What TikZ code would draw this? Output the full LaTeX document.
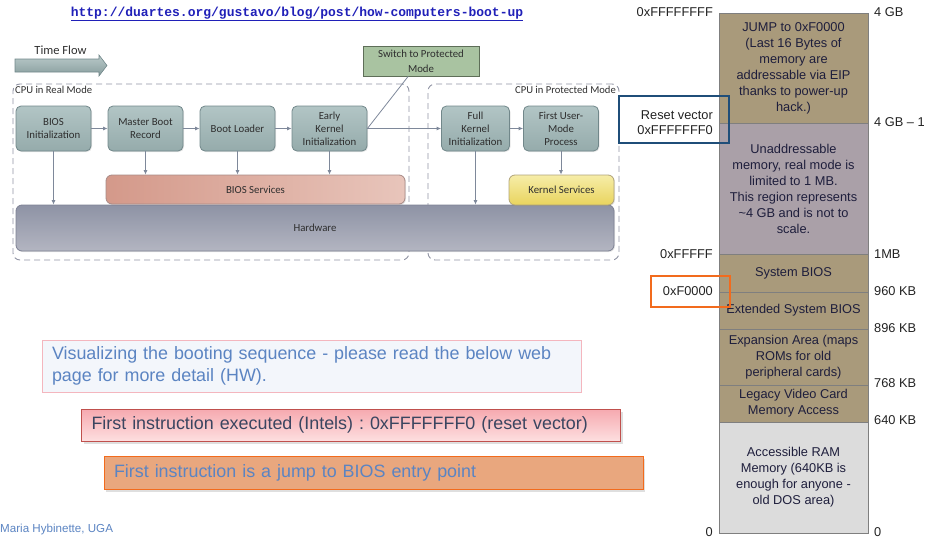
\documentclass[tikz,border=0pt]{standalone}
\usepackage{fontspec}
\setmainfont{Liberation Sans}
\newfontfamily\diagfont{Carlito}
\newfontfamily\linkfont{Liberation Mono}
\usetikzlibrary{arrows.meta,shadows,calc}
\frenchspacing

% palette
\definecolor{stagetop}{HTML}{B2C5C5}
\definecolor{stagebot}{HTML}{95ABAB}
\definecolor{stageline}{HTML}{71878A}
\definecolor{switchfill}{HTML}{A9C3A1}
\definecolor{switchline}{HTML}{5E6E58}
\definecolor{hwtop}{HTML}{8E93A5}
\definecolor{hwbot}{HTML}{B3B5C1}
\definecolor{hwline}{HTML}{7D8194}
\definecolor{bsvcleft}{HTML}{D4998A}
\definecolor{bsvcright}{HTML}{E8C5BB}
\definecolor{bsvcline}{HTML}{A88A86}
\definecolor{kstop}{HTML}{F6EDA8}
\definecolor{ksbot}{HTML}{E9D45E}
\definecolor{ksline}{HTML}{B0A37A}
\definecolor{regionline}{HTML}{9194A4}
\definecolor{flowline}{HTML}{7E889A}
\definecolor{diagtext}{HTML}{2E2E2E}
\definecolor{memtan}{HTML}{A99A7B}
\definecolor{memgray}{HTML}{AAA0A8}
\definecolor{memram}{HTML}{DCDCDC}
\definecolor{memline}{HTML}{7F7F7F}
\definecolor{memtext}{HTML}{1E1E3C}
\definecolor{addrtext}{HTML}{222222}
\definecolor{resetline}{HTML}{1F4E79}
\definecolor{offsetline}{HTML}{F26B1D}
\definecolor{linkblue}{HTML}{2020B8}
\definecolor{noteblue}{HTML}{5B84C2}
\definecolor{onefill}{HTML}{F3F6FB}
\definecolor{oneline}{HTML}{F4B6BE}
\definecolor{twotop}{HTML}{F6A9AF}
\definecolor{twobot}{HTML}{FDDFE0}
\definecolor{twoline}{HTML}{C0504D}
\definecolor{twotext}{HTML}{3A4560}
\definecolor{threefill}{HTML}{E9A77E}
\definecolor{arrowtop}{HTML}{BACACA}
\definecolor{arrowbot}{HTML}{879D9D}

\newcommand\diagsize{\diagfont\fontsize{10.8}{13}\selectfont}
\newcommand\tagsize{\diagfont\fontsize{10.6}{12}\selectfont}
\newcommand\memsize{\fontsize{12.8}{16}\selectfont}
\newcommand\notesize{\fontsize{17.9}{22}\selectfont}

\begin{document}
\begin{tikzpicture}[x=1pt,y=-1pt,
  stage/.style={draw=stageline, line width=0.8pt, rounded corners=5pt,
    top color=stagetop, bottom color=stagebot, minimum width=75pt,
    minimum height=45pt, inner sep=0pt, align=center, font=\diagsize,
    text=diagtext, drop shadow={shadow xshift=1pt, shadow yshift=-1pt, opacity=0.2}},
  layer/.style={line width=0.8pt, rounded corners=6pt, inner sep=0pt,
    font=\diagsize, text=diagtext,
    drop shadow={shadow xshift=1pt, shadow yshift=-1pt, opacity=0.2}},
  region/.style={draw=regionline, line width=0.9pt, dash pattern=on 6pt off 4pt,
    rounded corners=7pt, inner sep=0pt},
  flow/.style={draw=flowline, line width=0.8pt, -{Latex[length=4.5pt,width=4pt]}},
  plainline/.style={draw=flowline, line width=0.8pt},
  mem/.style={draw=memline, line width=0.8pt, minimum width=149pt, inner sep=0pt,
    align=center, font=\memsize, text=memtext},
  addr/.style={font=\memsize, text=addrtext, inner sep=0pt},
  note/.style={text width=519pt, inner xsep=10pt, inner ysep=0pt, align=left,
    font=\notesize, line width=1pt}]

\useasboundingbox (0,0) rectangle (926,538);

% link to the source article
\node[font=\linkfont\bfseries\fontsize{13}{15}\selectfont, text=linkblue] (link) at (297,14)
  {\underline{http://duartes.org/gustavo/blog/post/how-computers-boot-up}};

% time flow block arrow
\node[font=\diagfont\fontsize{12.5}{14}\selectfont, text=diagtext] (tflabel) at (60.5,50) {Time Flow};
\shade[top color=arrowtop, bottom color=arrowbot, draw=stageline, line width=0.6pt]
  (15,59) -- (99,59) -- (99,55) -- (107,65.5) -- (99,76) -- (99,72) -- (15,72) -- cycle;

% CPU mode regions
\node[region, minimum width=396pt, minimum height=176pt] (real) at (211,172) {};
\node[region, minimum width=191pt, minimum height=176pt] (prot) at (523.5,172) {};
\node[anchor=north west, font=\tagsize, text=diagtext, inner sep=0pt] (reallbl) at (15,86) {CPU in Real Mode};
\node[anchor=north east, font=\tagsize, text=diagtext, inner sep=0pt] (protlbl) at (616,86) {CPU in Protected Mode};

% service layers
\node[layer, draw=hwline, top color=hwtop, bottom color=hwbot,
  minimum width=598pt, minimum height=46pt] (hw) at (315,228) {Hardware};
\node[layer, draw=bsvcline, left color=bsvcleft, right color=bsvcright,
  minimum width=299pt, minimum height=29pt] (bsvc) at (255.5,189.5) {BIOS Services};
\node[layer, draw=ksline, top color=kstop, bottom color=ksbot,
  minimum width=105pt, minimum height=30pt] (ksvc) at (561.5,190) {Kernel Services};

% boot stages
\node[stage] (bios) at (53.5,128.5) {BIOS\\Initialization};
\node[stage] (mbr) at (145.5,128.5) {Master Boot\\Record};
\node[stage] (loader) at (237.5,128.5) {Boot Loader};
\node[stage] (early) at (329.5,128.5) {Early\\Kernel\\Initialization};
\node[stage, minimum width=68pt] (full) at (475.5,128.5) {Full\\Kernel\\Initialization};
\node[stage] (user) at (561,128.5) {First User-\\Mode\\Process};

\node[draw=switchline, fill=switchfill, line width=0.8pt, minimum width=116pt,
  minimum height=30pt, inner sep=0pt, align=center,
  font=\diagfont\fontsize{10.8}{15}\selectfont, text=diagtext] (switch) at (421,61)
  {Switch to Protected\\Mode};

% stage sequence
\draw[flow] (bios.east) -- (mbr.west);
\draw[flow] (mbr.east) -- (loader.west);
\draw[flow] (loader.east) -- (early.west);
\draw[flow] (early.east) -- (full.west);
\draw[flow] (full.east) -- (user.west);
\draw[plainline] (early.east) -- ($(switch.south west)!0.39!(switch.south east)$);

% calls into services
\draw[flow] (bios.south) -- (bios.south |- hw.north);
\draw[flow] (mbr.south) -- (mbr.south |- bsvc.north);
\draw[flow] (loader.south) -- (loader.south |- bsvc.north);
\draw[flow] (early.south) -- (early.south |- bsvc.north);
\draw[flow] (full.south) -- (full.south |- hw.north);
\draw[flow] (user.south) -- (user.south |- ksvc.north);

% memory map
\node[mem, fill=memtan, minimum height=110pt] (jump) at (793.5,68)
  {JUMP to 0xF0000\\(Last 16 Bytes of\\memory are\\addressable via EIP\\thanks to power-up\\hack.)};
\node[mem, fill=memgray, minimum height=131pt] (unaddr) at (793.5,188.5)
  {Unaddressable\\memory, real mode is\\limited to 1 MB.\\This region represents\\\textasciitilde4 GB and is not to\\scale.};
\node[mem, fill=memtan, minimum height=38pt] (sysbios) at (793.5,273) {System BIOS};
\node[mem, fill=memtan, minimum height=37pt] (extbios) at (793.5,310.5) {Extended System BIOS};
\node[mem, fill=memtan, minimum height=56pt] (expansion) at (793.5,357)
  {Expansion Area (maps\\ROMs for old\\peripheral cards)};
\node[mem, fill=memtan, minimum height=37pt] (video) at (793.5,403.5)
  {Legacy Video Card\\Memory Access};
\node[mem, fill=memram, minimum height=111pt] (ram) at (793.5,477.5)
  {Accessible RAM\\Memory (640KB is\\enough for anyone -\\old DOS area)};

% addresses
\node[addr, anchor=east] (atop) at (713,12) {0xFFFFFFFF};
\node[addr, anchor=east] (a1mb) at (713,254) {0xFFFFF};
\node[addr, anchor=east] (azero) at (713,532) {0};
\node[addr, anchor=east] (af0) at (713,291) {0xF0000};
\node[addr, anchor=east, align=right, font=\fontsize{12.8}{15}\selectfont] (areset) at (713,122.5)
  {Reset vector\\0xFFFFFFF0};
\node[draw=resetline, line width=2pt, minimum width=110pt, minimum height=47pt, inner sep=0pt] (resetbox) at (674,119.5) {};
\node[draw=offsetline, line width=2pt, minimum width=79pt, minimum height=31pt, inner sep=0pt] (f0box) at (690.5,291.5) {};

% sizes
\node[addr, anchor=west] (s4g) at (874,12) {4 GB};
\node[addr, anchor=west] (s4g16) at (874,122) {4 GB – 1};
\node[addr, anchor=west] (s1mb) at (874,254) {1MB};
\node[addr, anchor=west] (s960) at (874,291) {960 KB};
\node[addr, anchor=west] (s896) at (874,328) {896 KB};
\node[addr, anchor=west] (s768) at (874,383) {768 KB};
\node[addr, anchor=west] (s640) at (874,420) {640 KB};
\node[addr, anchor=west] (s0) at (874,532) {0};

% notes
\node[note, draw=oneline, fill=onefill, text=noteblue, minimum height=52pt] (visual) at (311.5,366)
  {Visualizing the booting sequence - please read the below web\\page for more detail (HW).};
\node[note, draw=twoline, top color=twotop, bottom color=twobot, text=twotext, minimum height=32pt,
  drop shadow={shadow xshift=2pt, shadow yshift=-3pt, opacity=0.25}] (first) at (351,425)
  {First instruction executed (Intels) : 0xFFFFFFF0 (reset vector)};
\node[note, draw=offsetline, fill=threefill, text=noteblue, minimum height=33pt,
  drop shadow={shadow xshift=2pt, shadow yshift=-3pt, opacity=0.25}] (jumpnote) at (373.5,472.5)
  {First instruction is a jump to BIOS entry point};

\node[anchor=west, inner sep=0pt, font=\fontsize{11.6}{13}\selectfont, text=noteblue] (credit) at (0,529)
  {Maria Hybinette, UGA};
\end{tikzpicture}
\end{document}
